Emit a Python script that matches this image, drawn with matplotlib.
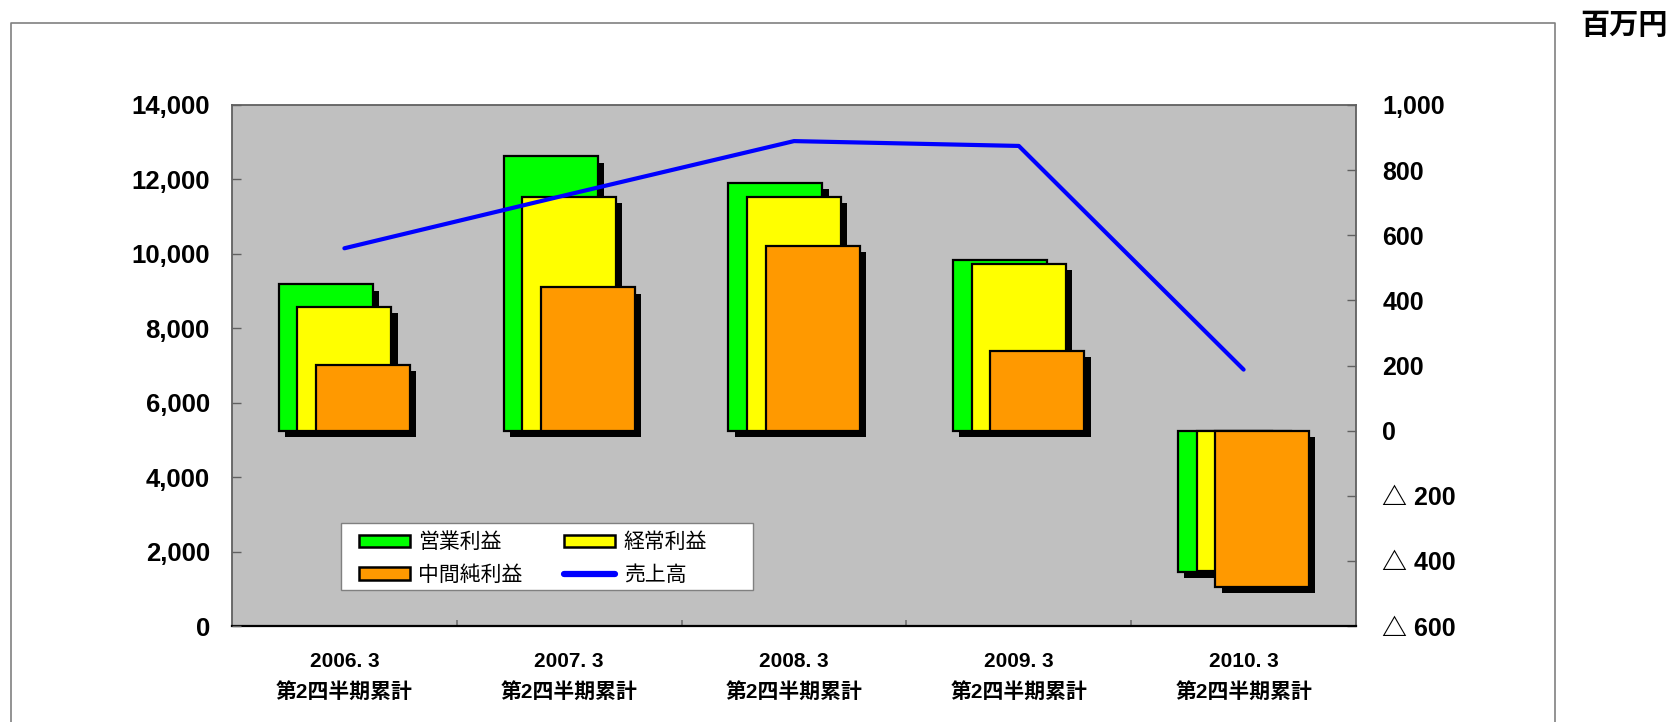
import matplotlib
matplotlib.use('Agg')
import matplotlib.pyplot as plt
import matplotlib.patheffects as pe
from matplotlib.patches import Patch, Rectangle
from matplotlib.lines import Line2D
from matplotlib.ticker import FuncFormatter, MultipleLocator, FixedLocator
import numpy as np

plt.rcParams['font.family'] = ['Liberation Sans', 'Noto Sans CJK JP', 'DejaVu Sans']
plt.rcParams['font.weight'] = 'bold'

# data (百万円)
periods = ['2006. 3', '2007. 3', '2008. 3', '2009. 3', '2010. 3']
period_note = '第2四半期累計'
sales = [10150, 11600, 13030, 12900, 6890]      # 売上高, left axis
operating = [449, 842, 760, 524, -433]          # 営業利益, right axis
ordinary = [380, 717, 718, 511, -432]           # 経常利益
net = [202, 440, 567, 244, -479]                # 中間純利益
series_names = ['営業利益', '経常利益', '中間純利益', '売上高']
bar_colors = ['#00ff00', '#ffff00', '#ff9900']
line_color = '#0000ff'

W, H = 1675, 722
fig = plt.figure(figsize=(W / 100, H / 100), dpi=100)

# outer chart frame (open at the bottom)
fig.add_artist(Line2D([11 / W, 11 / W, 1555 / W, 1555 / W], [0, 1 - 23 / H, 1 - 23 / H, 0],
                      color='#808080', lw=1.2))
fig.text(1624 / W, 1 - 25 / H, '百万円', ha='center', va='center', fontsize=21,
         fontweight='bold', family=['Noto Sans CJK JP', 'DejaVu Sans'])

ax = fig.add_axes([232 / W, 1 - 626 / H, 1124 / W, 521 / H])
ax.set_facecolor('#c0c0c0')
x = np.arange(len(periods))

# overlapping bars with a drop shadow, on the right axis
shadow = [pe.SimplePatchShadow(offset=(4.5, -4.5), shadow_rgbFace='black', alpha=1.0), pe.Normal()]
bw = 0.418
step = 0.083
for k, (vals, col) in enumerate(zip([operating, ordinary, net], bar_colors)):
    bars = ax.bar(x + (k - 1) * step, vals, width=bw, color=col, edgecolor='black',
                  linewidth=1.6, zorder=2 + k)
    for b in bars:
        b.set_path_effects(shadow)

ax.set_xlim(-0.5, 4.5)
ax.set_ylim(-600, 1000)

ax.set_xticks(x)
ax.set_xticklabels([f'{p}\n{period_note}' for p in periods], fontsize=15,
                   fontweight='bold', linespacing=1.65)
ax.tick_params(axis='x', which='major', length=0, pad=19)
ax.xaxis.set_minor_locator(FixedLocator([0.5, 1.5, 2.5, 3.5]))
ax.tick_params(axis='x', which='minor', direction='in', length=4, width=1.2, color='#707070')

for side in ['top', 'right', 'left']:
    ax.spines[side].set_color('#606060')
    ax.spines[side].set_linewidth(1.3)
ax.spines['bottom'].set_color('black')
ax.spines['bottom'].set_linewidth(1.6)

# sales line on the left axis
ax2 = ax.twinx()
ax2.yaxis.tick_left()
ax2.yaxis.set_label_position('left')
ax2.plot(x, sales, color=line_color, lw=3, solid_capstyle='round', zorder=10)
ax2.set_ylim(0, 14000)
ax2.yaxis.set_major_locator(MultipleLocator(2000))
ax2.yaxis.set_major_formatter(FuncFormatter(lambda v, p: f'{v:,.0f}'))
ax2.tick_params(axis='y', direction='in', length=6.5, width=1, color='#606060',
                pad=16, labelsize=18.5)
for s in ax2.spines.values():
    s.set_visible(False)

# twinx moved the bar axis ticks to the left, put them back on the right
ax.yaxis.tick_right()
ax.yaxis.set_label_position('right')
ax.yaxis.set_major_locator(MultipleLocator(200))
ax.yaxis.set_major_formatter(FuncFormatter(
    lambda v, p: f'△ {abs(v):,.0f}' if v < 0 else f'{v:,.0f}'))
ax.tick_params(axis='y', direction='in', length=6.5, width=1, color='#606060',
               pad=19, labelsize=18)

# legend box drawn by hand, entries filled row by row
ax2.add_patch(Rectangle((0.097, 0.069), 0.3665, 0.129, transform=ax2.transAxes,
                        facecolor='white', edgecolor='#808080', lw=1.0, zorder=15,
                        clip_on=False))
handles = [Patch(fc=bar_colors[0], ec='black', lw=1.8),
           Patch(fc=bar_colors[2], ec='black', lw=1.8),
           Patch(fc=bar_colors[1], ec='black', lw=1.8),
           Line2D([], [], color=line_color, lw=4.5, solid_capstyle='round')]
labels = [series_names[0], series_names[2], series_names[1], series_names[3]]
leg = ax2.legend(handles, labels, loc='center left',
                 bbox_to_anchor=(0.097 + 18 / 1124, 0.069 + 0.129 / 2 - 0.004),
                 ncol=2, frameon=False, borderaxespad=0, borderpad=0,
                 labelspacing=0.5, handlelength=2.45, handleheight=0.55,
                 handletextpad=0.4, columnspacing=2.0,
                 prop={'size': 15, 'weight': 'normal',
                       'family': ['Noto Sans CJK JP', 'DejaVu Sans']})
leg.set_zorder(20)

fig.savefig('out.png', dpi=100)
